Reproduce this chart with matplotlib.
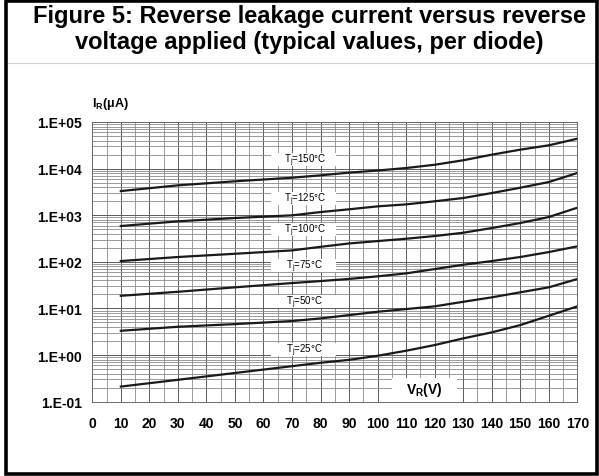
import matplotlib
matplotlib.use("Agg")
import matplotlib.pyplot as plt
from matplotlib.patches import Rectangle
from matplotlib.ticker import MultipleLocator, LogLocator, NullFormatter

plt.rcParams['font.family'] = ['Liberation Sans', 'DejaVu Sans']
plt.rcParams['mathtext.fontset'] = 'custom'
plt.rcParams['mathtext.rm'] = 'Liberation Sans'
plt.rcParams['mathtext.bf'] = 'Liberation Sans:bold'
plt.rcParams['mathtext.default'] = 'rm'

# tension inverse (V) et courants (uA)
v_r = [10, 30, 50, 70, 80, 90, 100, 110, 120, 130, 140, 150, 160, 170]
i_150 = [3300, 4380, 5340, 6380, 7180, 8200, 9100, 10300, 12100, 15100, 19900, 25500, 31600, 43800]
i_125 = [587, 740, 871, 995, 1170, 1340, 1550, 1710, 1990, 2340, 2990, 3890, 5150, 8050]
i_100 = [104, 127, 149, 176, 210, 248, 279, 313, 358, 421, 531, 680, 915, 1450]
i_75 = [18.7, 22.8, 28.4, 35.1, 38.7, 43, 48.9, 56.6, 70, 86.7, 104, 127, 162, 215]
i_50 = [3.32, 4.05, 4.62, 5.37, 6.12, 7.2, 8.5, 9.7, 11.1, 13.9, 17.3, 22.2, 28.4, 42.8]
i_25 = [0.211, 0.295, 0.413, 0.578, 0.684, 0.79, 0.966, 1.24, 1.64, 2.28, 3.07, 4.4, 6.97, 11.1]

courbes = [i_150, i_125, i_100, i_75, i_50, i_25]
labels = ["150", "125", "100", "75", "50", "25"]
label_y = [15500, 2260, 489, 82.4, 13.9, 1.30]

x_ticks = list(range(0, 171, 10))
y_ticks = [0.1, 1, 10, 100, 1000, 10000, 100000]
y_tick_labels = ["1.E-01", "1.E+00", "1.E+01", "1.E+02", "1.E+03", "1.E+04", "1.E+05"]

W, H = 599, 477
fig = plt.figure(figsize=(W / 100, H / 100), dpi=100)
fig.patch.set_facecolor('white')

# cadre noir autour de la figure
fig.patches.append(Rectangle((5.5 / W, 2 / H), 591.5 / W, 473 / H, transform=fig.transFigure,
                             fill=False, edgecolor='black', linewidth=2.6))
fig.add_artist(plt.Line2D([8 / W, 594 / W], [1 - 64 / H, 1 - 64 / H], transform=fig.transFigure,
                          color='#d0d0d0', linewidth=0.8))

fig.text(0.517, 1 - 16 / H, "Figure 5: Reverse leakage current versus reverse", ha='center', va='center',
         fontsize=17, fontweight='bold')
fig.text(0.517, 1 - 43 / H, "voltage applied (typical values, per diode)", ha='center', va='center',
         fontsize=17, fontweight='bold')

ax = fig.add_axes([92.3 / W, 1 - 402.7 / H, 485 / W, 279.7 / H])
ax.set_yscale('log')
ax.set_xlim(0, 170)
ax.set_ylim(0.1, 100000)
ax.set_axisbelow(True)

ax.xaxis.set_minor_locator(MultipleLocator(5))
ax.yaxis.set_minor_locator(LogLocator(base=10, subs=range(2, 10), numticks=20))
ax.yaxis.set_minor_formatter(NullFormatter())
ax.grid(which='major', color='#5a5a5a', linewidth=0.7)
ax.grid(which='minor', color='#8a8a8a', linewidth=0.6)
for s in ax.spines.values():
    s.set_color('#6a6a6a')
    s.set_linewidth(0.7)

ax.set_xticks(x_ticks)
ax.set_xticklabels([str(x) for x in x_ticks], fontweight='bold', fontsize=10)
ax.set_yticks(y_ticks)
ax.set_yticklabels(y_tick_labels, fontweight='bold', fontsize=10)
ax.tick_params(which='both', length=0)
ax.tick_params(axis='x', pad=10)
ax.tick_params(axis='y', pad=7.5)

for i in range(len(courbes)):
    ax.plot(v_r, courbes[i], color='#1a1a1a', linewidth=1.6, zorder=3)
    yl = label_y[i]
    ax.add_patch(Rectangle((62.5, yl / 1.38), 23, yl * 1.38 - yl / 1.38, facecolor='white',
                           edgecolor='none', zorder=2))
    ax.text(74.5, yl, "T$_j$=" + labels[i] + "°C", ha='center', va='center', fontsize=7, zorder=4)

ax.add_patch(Rectangle((105, 0.1), 23, 0.23, facecolor='white', edgecolor='none', zorder=2))
ax.text(116.5, 0.185, "$\\mathbf{V_R}$(V)", ha='center', va='center', fontsize=10, fontweight='bold', zorder=4)

fig.text(92 / W, 1 - 104 / H, "$\\mathbf{I_R}$(μA)", ha='left', va='center', fontsize=9, fontweight='bold')

plt.savefig("out.png", dpi=100)
